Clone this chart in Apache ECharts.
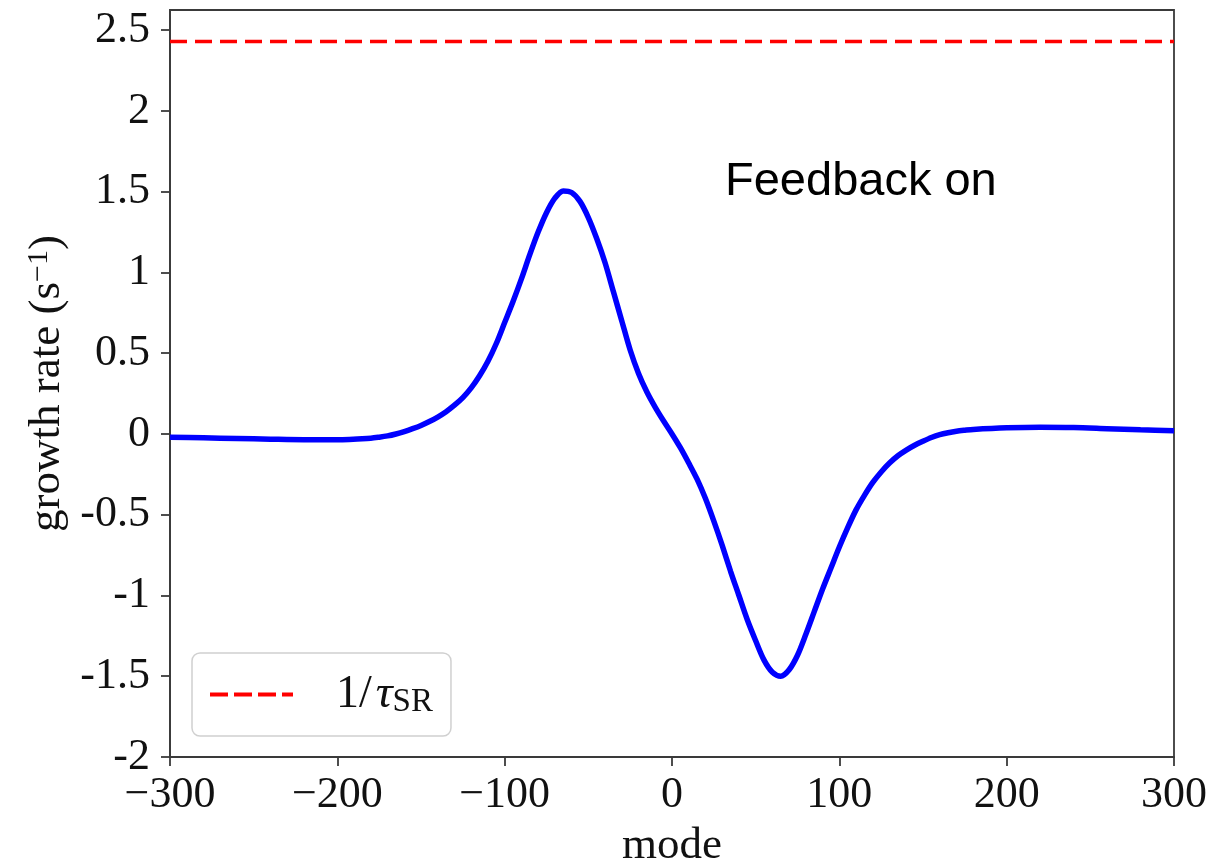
<!DOCTYPE html>
<html>
<head>
<meta charset="utf-8">
<script src="https://cdn.jsdelivr.net/npm/echarts@6/dist/echarts.min.js"></script>
<style>
html,body{margin:0;padding:0;background:#fff;}
#chart{width:1232px;height:865px;}
</style>
</head>
<body>
<div id="chart"></div>
<script>
// mode values and growth rates
const modes = [-300,-280,-260,-240,-220,-200,-180,-175,-170,-165,-160,-155,-150,-145,-140,-135,-130,-125,-120,-115,-110,-105,-100,-95,-90,-85,-80,-75,-70,-65,-60,-55,-50,-45,-40,-35,-30,-25,-20,-15,-10,-5,0,5,10,15,20,25,30,35,40,45,50,55,60,65,70,75,80,85,90,95,100,105,110,115,120,125,130,135,140,145,150,155,160,165,170,175,180,200,220,240,260,280,300];
const growthRate = [-0.02,-0.024,-0.028,-0.032,-0.035,-0.035,-0.026,-0.02,-0.012,0.0,0.015,0.033,0.053,0.077,0.105,0.138,0.178,0.225,0.285,0.36,0.45,0.56,0.69,0.82,0.96,1.11,1.25,1.37,1.46,1.505,1.495,1.44,1.34,1.21,1.06,0.88,0.70,0.52,0.375,0.26,0.165,0.08,0.0,-0.085,-0.18,-0.28,-0.40,-0.54,-0.69,-0.85,-1.0,-1.15,-1.28,-1.40,-1.475,-1.50,-1.46,-1.37,-1.24,-1.10,-0.96,-0.83,-0.70,-0.58,-0.47,-0.38,-0.30,-0.235,-0.18,-0.135,-0.10,-0.07,-0.045,-0.022,-0.004,0.008,0.017,0.023,0.028,0.038,0.042,0.04,0.033,0.026,0.02];
const srRate = 2.43;
const xTicks = [-300,-200,-100,0,100,200,300];
const yTicks = [-2,-1.5,-1,-0.5,0,0.5,1,1.5,2,2.5];
const annotation = 'Feedback on';

const serif = '"Liberation Serif","DejaVu Serif",serif';
const chart = echarts.init(document.getElementById('chart'));
chart.setOption({
  animation: false,
  backgroundColor: '#fff',
  grid: {left: 170, top: 10, right: 58, bottom: 108, containLabel: false, outerBoundsMode: 'none',
    show: true, borderColor: '#3a3a3a', borderWidth: 1.8, backgroundColor: 'transparent'},
  xAxis: {
    type: 'value', min: -300, max: 300, interval: 100,
    name: 'mode', nameLocation: 'middle', nameGap: 67,
    nameTextStyle: {fontFamily: serif, fontSize: 45, color: '#111'},
    axisLine: {onZero: false, lineStyle: {color: '#3a3a3a', width: 1.8}},
    axisTick: {show: true, length: 9, lineStyle: {color: '#3a3a3a', width: 1.8}},
    splitLine: {show: false},
    axisLabel: {fontFamily: serif, fontSize: 44, color: '#111', margin: 16,
      formatter: v => String(v).replace('-', '\u2212')}
  },
  yAxis: {
    type: 'value', min: -2, max: 2.625,
    name: 'growth rate (s{sup|\u22121})', nameLocation: 'middle', nameGap: 100, nameRotate: 90,
    nameTextStyle: {fontFamily: serif, fontSize: 45, color: '#111',
      rich: {sup: {fontFamily: serif, fontSize: 30, color: '#111', verticalAlign: 'top', lineHeight: 30}}},
    axisLine: {onZero: false, lineStyle: {color: '#3a3a3a', width: 1.8}},
    axisTick: {show: true, length: 9, lineStyle: {color: '#3a3a3a', width: 1.8}, customValues: yTicks},
    splitLine: {show: false},
    axisLabel: {fontFamily: serif, fontSize: 44, color: '#111', margin: 20, customValues: yTicks,
      formatter: v => String(v)}
  },
  legend: {
    left: 192, top: 653, orient: 'vertical',
    backgroundColor: '#fff', borderColor: '#d0d0d0', borderWidth: 1.5, borderRadius: 8,
    padding: [17, 18, 17, 18],
    itemWidth: 83, itemHeight: 14,
    data: [{name: 'sr', icon: 'path://M0,0 L18,0 L18,4 L0,4 Z M24,0 L42,0 L42,4 L24,4 Z M48,0 L66,0 L66,4 L48,4 Z M72,0 L83,0 L83,4 L72,4 Z', itemStyle: {color: '#ff0000'}}],
    formatter: () => '{n|1/}{t|\u03c4}{s|SR}',
    textStyle: {
      rich: {
        n: {fontFamily: serif, fontSize: 46, color: '#111', padding: [0, 0, 0, 38], lineHeight: 48},
        t: {fontFamily: serif, fontSize: 47, fontStyle: 'italic', color: '#111', lineHeight: 48, padding: [0, 0, 0, 4]},
        s: {fontFamily: serif, fontSize: 33, color: '#111', lineHeight: 48, padding: [16, 0, 0, 0]}
      }
    }
  },
  graphic: [{
    type: 'text', left: 725, top: 159,
    style: {text: annotation, font: '47px "Liberation Sans", Arial, sans-serif', fill: '#000'}
  }],
  series: [
    {
      name: 'sr', type: 'line', symbol: 'none', z: 3,
      data: [[-300, srRate], [300, srRate]],
      lineStyle: {color: '#ff0000', width: 3.5, type: [17, 8]}
    },
    {
      name: 'growth', type: 'line', symbol: 'none', smooth: 0.3, z: 2,
      data: modes.map((m, i) => [m, growthRate[i]]),
      lineStyle: {color: '#0000ff', width: 5.5}
    }
  ]
});
</script>
</body>
</html>
